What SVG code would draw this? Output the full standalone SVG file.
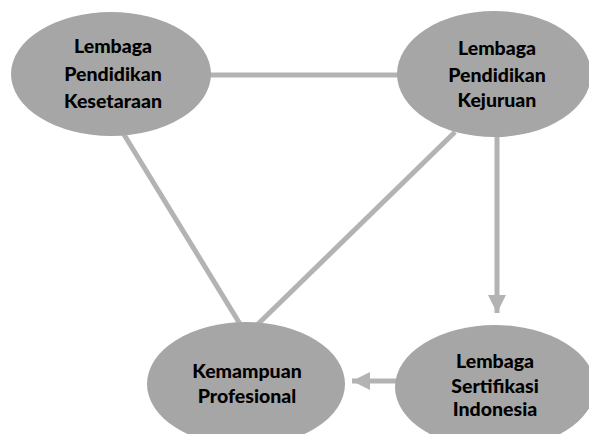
<svg xmlns="http://www.w3.org/2000/svg" width="589" height="434" viewBox="0 0 589 434">
<style>
.node{fill:#a6a6a6;}
.lbl{font-family:Lato,"Open Sans","Liberation Sans",sans-serif;font-weight:900;font-size:19.5px;fill:#000;text-anchor:middle;}
.edge{stroke:#b3b3b3;stroke-width:5;fill:none;}
</style>
<defs>
<marker id="arr" markerUnits="userSpaceOnUse" markerWidth="18" markerHeight="18" viewBox="0 0 16 16" refX="16" refY="8" orient="auto">
<path d="M0,0 L16,8 L0,16 Z" fill="#b3b3b3"/>
</marker>
</defs>
<g id="connectors">
<line class="edge" x1="205" y1="75" x2="400" y2="75"/>
<line class="edge" x1="120" y1="128" x2="240" y2="324"/>
<line class="edge" x1="455" y1="132" x2="256" y2="326"/>
<line class="edge" x1="497" y1="135" x2="497" y2="313" marker-end="url(#arr)"/>
<line class="edge" x1="400" y1="381" x2="352" y2="381" marker-end="url(#arr)"/>
</g>
<g id="n1">
<ellipse class="node" cx="111" cy="74" rx="100" ry="62"/>
<text class="lbl" x="113" y="53">Lembaga</text>
<text class="lbl" x="113" y="81">Pendidikan</text>
<text class="lbl" x="113" y="108">Kesetaraan</text>
</g>
<g id="n2">
<ellipse class="node" cx="494" cy="74" rx="97" ry="63"/>
<text class="lbl" x="497" y="55">Lembaga</text>
<text class="lbl" x="497" y="82">Pendidikan</text>
<text class="lbl" x="497" y="107">Kejuruan</text>
</g>
<g id="n3">
<ellipse class="node" cx="246" cy="384" rx="99" ry="62"/>
<text class="lbl" x="247" y="378">Kemampuan</text>
<text class="lbl" x="247" y="403">Profesional</text>
</g>
<g id="n4">
<ellipse class="node" cx="495" cy="387" rx="100" ry="62"/>
<text class="lbl" x="495" y="368">Lembaga</text>
<text class="lbl" x="495" y="393">Sertifikasi</text>
<text class="lbl" x="495" y="416">Indonesia</text>
</g>
</svg>
